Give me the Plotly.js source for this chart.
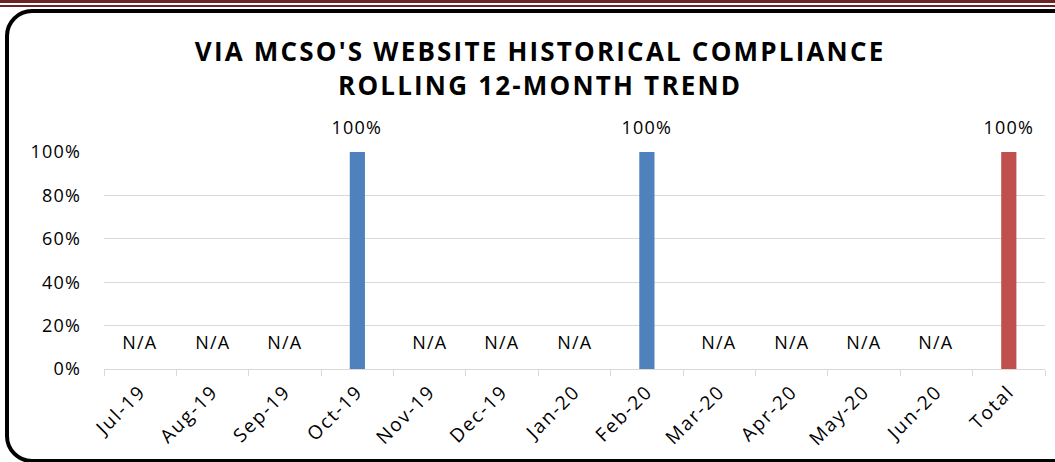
<!DOCTYPE html>
<html>
<head>
<meta charset="utf-8">
<script src="https://cdn.plot.ly/plotly-3.0.1.min.js"></script>
<style>
  html, body { margin: 0; padding: 0; background: #fff; }
  #wrap { position: relative; width: 1055px; height: 462px; overflow: hidden; }
  #chart { position: absolute; left: 0; top: 0; width: 1055px; height: 462px; }
  #band1 { position: absolute; left: 0; top: 0; width: 1055px; height: 3px; background: #6b2424; }
  #band2 { position: absolute; left: 0; top: 5px; width: 1055px; height: 2px; background: #6b2424; }
  #frame { position: absolute; left: 5px; top: 9px; width: 1070px; height: 446px;
           border: 4px solid #000; border-radius: 27px; pointer-events: none; }
  #chart .gtitle { letter-spacing: 2.2px; }
  #chart .xtick text { letter-spacing: 1.8px; }
  #chart .ytick text { letter-spacing: 1.2px; }
  #chart .annotation-text { letter-spacing: 1.2px; }
</style>
</head>
<body>
<div id="wrap">
  <div id="chart"></div>
  <div id="band1"></div>
  <div id="band2"></div>
  <div id="frame"></div>
</div>
<script>
const categories = ["Jul-19","Aug-19","Sep-19","Oct-19","Nov-19","Dec-19","Jan-20","Feb-20","Mar-20","Apr-20","May-20","Jun-20","Total"];
const values = [null,null,null,1,null,null,null,1,null,null,null,null,1];
const labels = ["N/A","N/A","N/A","100%","N/A","N/A","N/A","100%","N/A","N/A","N/A","N/A","100%"];
const isTotal = [false,false,false,false,false,false,false,false,false,false,false,false,true];
const yTicks = [0,0.2,0.4,0.6,0.8,1];
const yTickLabels = ["0%","20%","40%","60%","80%","100%"];

const font = "Open Sans, sans-serif";
const barColors = isTotal.map(t => t ? "#C0504D" : "#4F81BD");

const barTrace = {
  type: "bar",
  x: categories,
  y: values.map(v => v === null ? 0 : v),
  marker: { color: barColors },
  width: 0.21,
  cliponaxis: false,
  hoverinfo: "x+y"
};

const annotations = values.map((v, i) => ({
  x: categories[i], y: v === null ? 0 : v, xref: "x", yref: "y",
  text: labels[i], showarrow: false, yshift: v === null ? 27 : 25,
  font: { family: font, size: 18, color: "#000" }
}));

const layout = {
  width: 1055, height: 462,
  margin: { l: 104, r: 10, t: 152, b: 93 },
  paper_bgcolor: "rgba(0,0,0,0)",
  plot_bgcolor: "rgba(0,0,0,0)",
  showlegend: false,
  title: {
    text: "<b>VIA MCSO'S WEBSITE HISTORICAL COMPLIANCE<br>ROLLING 12-MONTH TREND</b>",
    x: 0.512, xanchor: "center", xref: "container",
    y: 1 - 61 / 462, yanchor: "top", yref: "container",
    font: { family: font, size: 26, color: "#000" }
  },
  xaxis: {
    type: "category",
    showline: true, linecolor: "#d9d9d9", linewidth: 1,
    ticks: "outside", tickson: "boundaries", ticklen: 6, tickcolor: "#d9d9d9",
    tickangle: -45, ticklabelstandoff: 3,
    tickfont: { family: font, size: 19, color: "#000" },
    showgrid: false, fixedrange: true
  },
  yaxis: {
    range: [0, 1], tickvals: yTicks, ticktext: yTickLabels,
    showgrid: true, gridcolor: "#d9d9d9", gridwidth: 1,
    zeroline: false, showline: false, ticks: "",
    ticklabelstandoff: 22,
    tickfont: { family: font, size: 18, color: "#000" },
    fixedrange: true
  },
  annotations: annotations,
  bargap: 0.79
};

Plotly.newPlot("chart", [barTrace], layout, { displayModeBar: false, staticPlot: true });
</script>
</body>
</html>
